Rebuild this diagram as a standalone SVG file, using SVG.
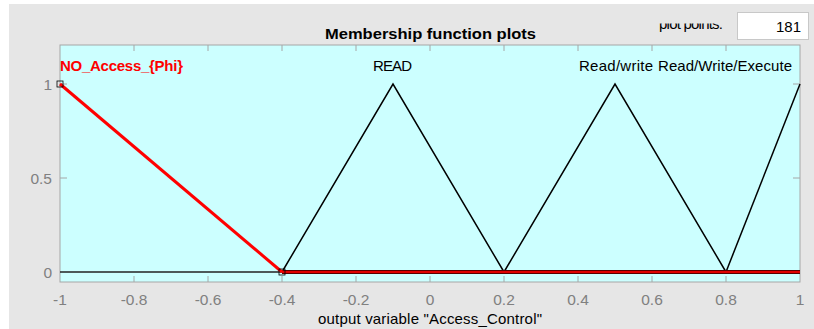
<svg xmlns="http://www.w3.org/2000/svg" width="814" height="329" viewBox="0 0 814 329">
  <style>
    .lbl { font-family: "Liberation Sans", Arial, sans-serif; font-size: 15px; fill: #000; }
    .tick { font-family: "Liberation Sans", Arial, sans-serif; font-size: 15.5px; fill: #808080; }
    .tk { stroke: #a6a6a6; stroke-width: 1; fill: none; }
    .mf { stroke: #000; stroke-width: 1.5; fill: none; stroke-linejoin: miter; }
  </style>
  <defs>
    <clipPath id="topClip"><rect x="0" y="23.4" width="814" height="20"/></clipPath>
  </defs>
  <!-- figure background -->
  <rect x="0" y="0" width="814" height="329" fill="#ffffff"/>
  <rect x="9" y="4" width="805" height="325" fill="#e6e6e6"/>

  <!-- plot points control -->
  <g id="plot-points">
    <text class="lbl" x="659" y="28.5" font-size="13" textLength="64" clip-path="url(#topClip)">plot points:</text>
    <rect x="737.5" y="12.5" width="71" height="27" fill="#ffffff" stroke="#c8c8c8"/>
    <text class="lbl" x="801" y="32" text-anchor="end">181</text>
  </g>

  <!-- title -->
  <text class="lbl" x="325" y="38.5" font-weight="bold" font-size="16" textLength="211" lengthAdjust="spacingAndGlyphs">Membership function plots</text>

  <!-- axes -->
  <g id="axes">
    <rect x="60" y="45" width="740" height="237" fill="#ccffff"/>
    <path class="tk" d="M134 45v6M208 45v6M282 45v6M356 45v6M430 45v6M504 45v6M578 45v6M652 45v6M726 45v6
                        M134 282v-6M208 282v-6M282 282v-6M356 282v-6M430 282v-6M504 282v-6M578 282v-6M652 282v-6M726 282v-6
                        M60 84h7M60 178h7M800 84h-7M800 178h-7"/>
    <rect class="tk" x="60" y="45" width="740" height="237"/>
    <g class="tick" text-anchor="middle">
      <text x="60" y="305">-1</text>
      <text x="134" y="305">-0.8</text>
      <text x="208" y="305">-0.6</text>
      <text x="282" y="305">-0.4</text>
      <text x="356" y="305">-0.2</text>
      <text x="430" y="305">0</text>
      <text x="504" y="305">0.2</text>
      <text x="578" y="305">0.4</text>
      <text x="652" y="305">0.6</text>
      <text x="726" y="305">0.8</text>
      <text x="800" y="305">1</text>
    </g>
    <g class="tick" text-anchor="end">
      <text x="52" y="89.5">1</text>
      <text x="52" y="183.5">0.5</text>
      <text x="52" y="277.5">0</text>
    </g>
    <text class="lbl" x="318" y="323.5" textLength="224">output variable "Access_Control"</text>
  </g>

  <!-- membership functions -->
  <g id="connectors">
    <line x1="60" y1="272" x2="800" y2="272" stroke="#222" stroke-width="1.5"/>
    <polyline class="mf" points="282,272 393,84 504,272"/>
    <polyline class="mf" points="504,272 615,84 726,272"/>
    <polyline class="mf" points="726,272 800,84"/>
    <line x1="282" y1="272" x2="800" y2="272" stroke="#5a0000" stroke-width="4"/>
    <line x1="282" y1="272" x2="800" y2="272" stroke="#e00000" stroke-width="2"/>
    <polyline points="60,84 282,272" fill="none" stroke="#ff0000" stroke-width="3"/>
    <rect x="57" y="81" width="6" height="6" fill="none" stroke="#000" stroke-width="0.8"/>
    <rect x="279" y="269" width="6" height="6" fill="none" stroke="#000" stroke-width="0.8"/>
  </g>

  <!-- labels -->
  <g id="mf-no-access">
    <text class="lbl" x="60" y="70.5" style="fill:#ff0000" font-weight="bold" textLength="123">NO_Access_{Phi}</text>
  </g>
  <g id="mf-read">
    <text class="lbl" x="373" y="70.5" textLength="39">READ</text>
  </g>
  <g id="mf-read-write">
    <text class="lbl" x="579" y="70.5" textLength="74">Read/write</text>
  </g>
  <g id="mf-rwe">
    <text class="lbl" x="658" y="70.5" textLength="134">Read/Write/Execute</text>
  </g>
</svg>
